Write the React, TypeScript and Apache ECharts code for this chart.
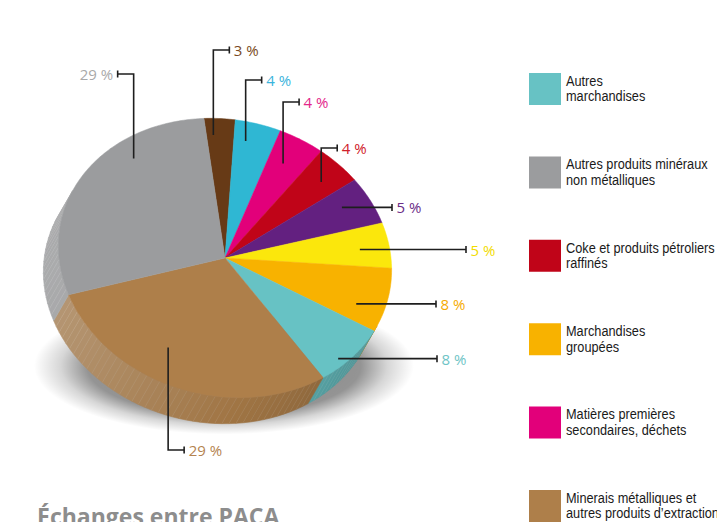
import React, { useEffect, useRef } from "react";
import * as echarts from "echarts";

// ---- data (slice order, clockwise from the top) ----
const sliceNames: (string | null)[] = [
  null,
  null,
  "Matières premières\nsecondaires, déchets",
  "Coke et produits pétroliers\nraffinés",
  null,
  null,
  "Marchandises\ngroupées",
  "Autres\nmarchandises",
  "Minerais métalliques et\nautres produits d’extraction",
  "Autres produits minéraux\nnon métalliques",
];
const sliceValues = [3.0, 4.4, 4.4, 4.4, 5.4, 5.2, 7.6, 7.6, 29.4, 28.6];
const titleText = "Échanges entre PACA";

// ---- styles ----
const sliceColors = ["#673a16", "#2fb7d3", "#e2007a", "#c00418", "#632080", "#fbe70c", "#f8b200", "#67c2c4", "#ae7f4a", "#9b9c9e"];
const labelColors = ["#7a4a22", "#3bb4dc", "#e3268a", "#d0202a", "#6b2d87", "#f2dc00", "#f5ab00", "#6ec4c6", "#b4834f", "#a9a9a9"];
// label layout: where inside the slice the leader starts and where it ends
const labelLayout = [
  { frac: 0.25, k: 0.88, dir: "up", to: 50, side: 1 },
  { frac: 0.3, k: 0.86, dir: "up", to: 80, side: 1 },
  { frac: 0.43, k: 0.79, dir: "up", to: 102, side: 1 },
  { frac: 0.56, k: 0.83, dir: "up", to: 148, side: 1 },
  { frac: 0.4, k: 0.82, dir: "right", to: 392, side: 1 },
  { frac: 0.55, k: 0.82, dir: "right", to: 466, side: 1 },
  { frac: 0.7, k: 0.83, dir: "right", to: 436, side: 1 },
  { frac: 0.65, k: 0.95, dir: "right", to: 437, side: 1 },
  { frac: 0.595, k: 0.754, dir: "down", to: 450, side: 1 },
  { frac: 0.688, k: 0.864, dir: "up", to: 74, side: -1 },
];

const deg = Math.PI / 180;
const CX = 225, CY = 258, RX = 168, RY = 138, TILT = 13 * deg, START = -108 * deg;
const DEPTH: [number, number] = [-15, 26];
const cosT = Math.cos(TILT), sinT = Math.sin(TILT);

function ellipsePoint(t: number, k = 1): [number, number] {
  const a = RX * k * Math.cos(t), b = RY * k * Math.sin(t);
  return [CX + a * cosT - b * sinT, CY + a * sinT + b * cosT];
}
function normalAt(t: number): [number, number] {
  const u = Math.cos(t) / RX, v = Math.sin(t) / RY;
  const nx = u * cosT - v * sinT, ny = u * sinT + v * cosT;
  const l = Math.hypot(nx, ny);
  return [nx / l, ny / l];
}
function hexRgb(h: string): number[] {
  const n = parseInt(h.slice(1), 16);
  return [(n >> 16) & 255, (n >> 8) & 255, n & 255];
}
function shade(h: string, s: number): string {
  const c = hexRgb(h);
  const out = c.map((v) => {
    let r = s > 0 ? v + (255 - v) * 0.3 * s : v * (1 - 0.22 * -s);
    r *= 0.92;
    return Math.max(0, Math.min(255, Math.round(r)));
  });
  return `rgb(${out[0]},${out[1]},${out[2]})`;
}

const total = sliceValues.reduce((a, b) => a + b, 0);
const bounds: number[] = [];
{
  let acc = START;
  sliceValues.forEach((v) => {
    bounds.push(acc);
    acc += (v / total) * Math.PI * 2;
  });
  bounds.push(acc);
}

const labelFont = '15px "Open Sans", sans-serif';
const legendFont = '15px "Liberation Sans", sans-serif';

export default function App() {
  const ref = useRef<HTMLDivElement>(null);
  useEffect(() => {
    if (!ref.current) return;
    const chart = echarts.init(ref.current, null, { renderer: "svg" });
    const data = sliceValues.map((v, i) => ({ value: v, name: sliceNames[i] || `s${i}` }));

    // soft shadow under the pie
    const shadow = {
      type: "circle", z: 0, silent: true,
      x: 224, y: 366, scaleY: 0.36,
      shape: { cx: 0, cy: 0, r: 190 },
      style: {
        fill: {
          type: "radial", x: 0.5, y: 0.5, r: 0.5,
          colorStops: [
            { offset: 0, color: "rgba(0,0,0,0.5)" },
            { offset: 0.72, color: "rgba(0,0,0,0.42)" },
            { offset: 0.86, color: "rgba(0,0,0,0.16)" },
            { offset: 1, color: "rgba(0,0,0,0)" },
          ],
        },
      },
    };

    // legend
    const legendItems = sliceNames
      .map((n, i) => ({ n, i }))
      .filter((o) => o.n)
      .sort((a, b) => (a.n as string).replace("\n", " ").localeCompare((b.n as string).replace("\n", " "), "fr"));
    const legend: any[] = [];
    legendItems.forEach((o, j) => {
      const top = 73 + j * 83.4;
      legend.push({ type: "rect", z: 10, shape: { x: 529, y: top, width: 32, height: 32 }, style: { fill: sliceColors[o.i] } });
      (o.n as string).split("\n").forEach((line, li) => {
        legend.push({
          type: "text", z: 10, x: 566, y: top + 7.5 + li * 15.5, scaleX: 0.85,
          style: { text: line, font: legendFont, fill: "#1a1a1a", align: "left", verticalAlign: "middle", textAlign: "left", textVerticalAlign: "middle" },
        });
      });
    });

    chart.setOption({
      animation: false,
      graphic: {
        elements: [
          shadow,
          ...legend,
          {
            type: "text", z: 10, x: 37, y: 516,
            style: { text: titleText, font: 'bold 23px "Open Sans", sans-serif', fill: "#8d8d8d", align: "left", verticalAlign: "middle", textAlign: "left", textVerticalAlign: "middle" },
          },
        ],
      },
      series: [
        {
          type: "custom", coordinateSystem: "none", z: 2, silent: true, data,
          renderItem: (params: any) => {
            const i = params.dataIndex;
            const t1 = bounds[i], t2 = bounds[i + 1];
            const n = Math.ceil((t2 - t1) / (2.5 * deg));
            const children: any[] = [];
            for (let j = 0; j < n; j++) {
              const ta = t1 + ((t2 - t1) * j) / n, tb = t1 + ((t2 - t1) * (j + 1)) / n;
              const nm = normalAt((ta + tb) / 2);
              if (nm[0] * DEPTH[0] + nm[1] * DEPTH[1] <= 0) continue;
              const c = shade(sliceColors[i], -nm[0]);
              const pa = ellipsePoint(ta), pb = ellipsePoint(tb);
              const pts = [pa, pb, [pb[0] + DEPTH[0], pb[1] + DEPTH[1]], [pa[0] + DEPTH[0], pa[1] + DEPTH[1]]];
              children.push({ type: "polygon", shape: { points: pts }, style: { fill: c, stroke: c, lineWidth: 0.6 } });
              if (j > 0) {
                children.push({ type: "line", shape: { x1: pa[0], y1: pa[1], x2: pa[0] + DEPTH[0], y2: pa[1] + DEPTH[1] }, style: { stroke: "rgba(255,255,255,0.12)", lineWidth: 0.6 } });
              }
            }
            return { type: "group", children };
          },
        },
        {
          type: "custom", coordinateSystem: "none", z: 3, silent: true, data,
          renderItem: (params: any) => {
            const i = params.dataIndex;
            const t1 = bounds[i], t2 = bounds[i + 1];
            const n = Math.max(2, Math.ceil((t2 - t1) / deg));
            const pts: [number, number][] = [[CX, CY]];
            for (let j = 0; j <= n; j++) pts.push(ellipsePoint(t1 + ((t2 - t1) * j) / n));
            return { type: "polygon", shape: { points: pts }, style: { fill: sliceColors[i], stroke: sliceColors[i], lineWidth: 0.5 } };
          },
        },
        {
          type: "custom", coordinateSystem: "none", z: 4, silent: true, data,
          renderItem: (params: any, api: any) => {
            const i = params.dataIndex;
            const L = labelLayout[i];
            const t1 = bounds[i], t2 = bounds[i + 1];
            const [ax, ay] = ellipsePoint(t1 + L.frac * (t2 - t1), L.k);
            let pts: number[][];
            let ex: number, ey: number;
            if (L.dir === "right") {
              ex = L.to; ey = ay;
              pts = [[ax, ay], [ex, ey]];
            } else {
              ex = ax + L.side * 16; ey = L.to;
              pts = [[ax, ay], [ax, ey], [ex, ey]];
            }
            const lineStyle = { stroke: "#1e1e1e", lineWidth: 1.6, fill: "none" };
            const txt = `${Math.round(api.value(0))} %`;
            return {
              type: "group",
              children: [
                { type: "polyline", shape: { points: pts }, style: lineStyle },
                { type: "line", shape: { x1: ex, y1: ey - 3.5, x2: ex, y2: ey + 3.5 }, style: lineStyle },
                {
                  type: "text", x: ex + L.side * 4.5, y: ey,
                  style: {
                    text: txt, font: labelFont, fill: labelColors[i],
                    align: L.side > 0 ? "left" : "right", verticalAlign: "middle",
                    textAlign: L.side > 0 ? "left" : "right", textVerticalAlign: "middle",
                  },
                },
              ],
            };
          },
        },
      ],
    });
    return () => chart.dispose();
  }, []);
  return <div ref={ref} style={{ position: "absolute", left: 0, top: 0, width: 717, height: 522 }} />;
}
